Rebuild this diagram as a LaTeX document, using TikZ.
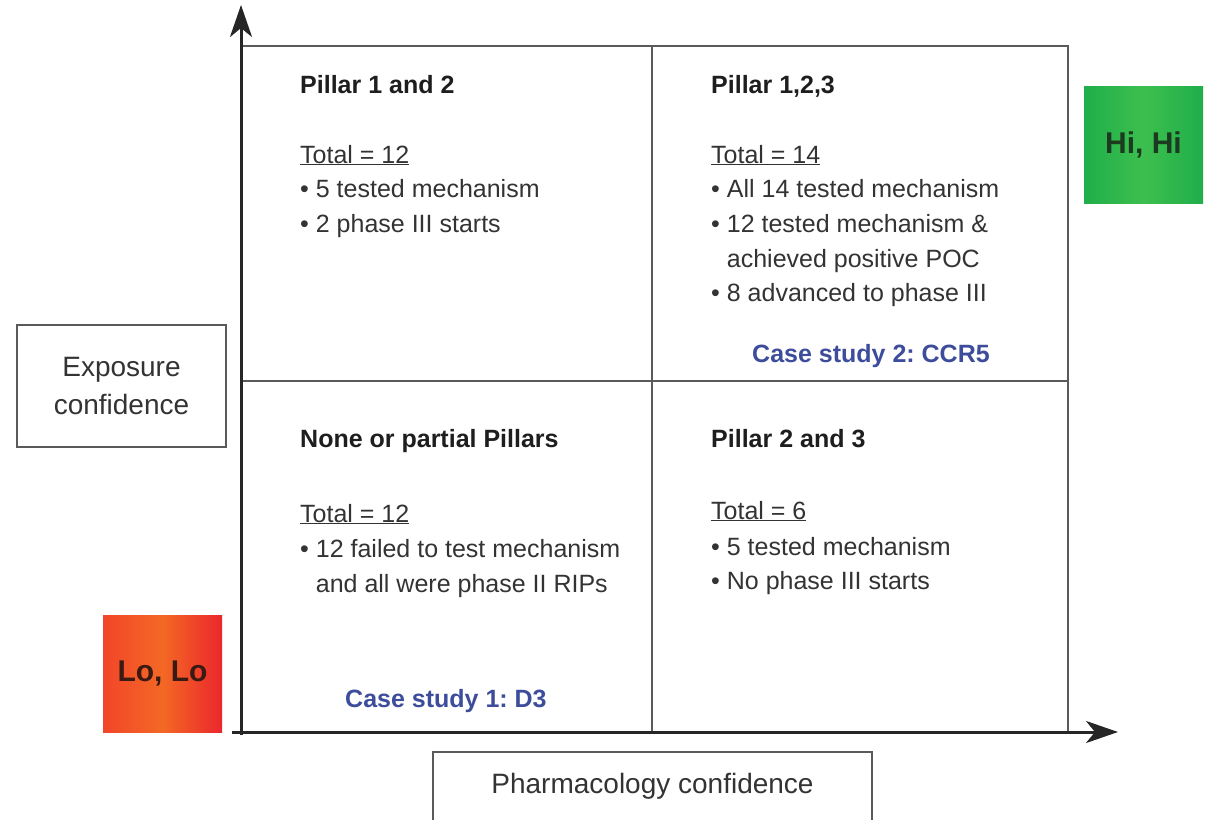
\documentclass[tikz,border=0pt]{standalone}
\usepackage{fontspec}
\setmainfont{Liberation Sans}
\usetikzlibrary{arrows.meta}
\frenchspacing
\definecolor{bodytxt}{HTML}{333333}
\definecolor{titletxt}{HTML}{1E1E1E}
\definecolor{casecol}{HTML}{3D4D9C}
\definecolor{gridcol}{HTML}{5A5A5A}
\definecolor{greenedge}{HTML}{1FAE4A}
\definecolor{greenmid}{HTML}{3DBF4E}
\definecolor{hitxt}{HTML}{1C3A1F}
\definecolor{redleft}{HTML}{F2462A}
\definecolor{redmid}{HTML}{F36824}
\definecolor{redright}{HTML}{EB272D}
\definecolor{lotxt}{HTML}{3A1A12}
\begin{document}
\begin{tikzpicture}[x=1pt,y=-1pt,
  titlelbl/.style={anchor=base west,inner sep=0,font=\fontsize{25}{30}\selectfont\bfseries\frenchspacing,text=titletxt},
  bodylbl/.style={anchor=base west,inner sep=0,font=\fontsize{25}{30}\selectfont\frenchspacing,text=bodytxt},
  caselbl/.style={anchor=base west,inner sep=0,font=\fontsize{25}{30}\selectfont\bfseries\frenchspacing,text=casecol},
  axislbl/.style={draw=gridcol,line width=1.5pt,inner sep=0,font=\fontsize{28}{38}\selectfont,text=bodytxt,align=center},
  levelbox/.style={minimum width=119pt,minimum height=117pt,inner sep=0,font=\fontsize{30}{36}\selectfont\bfseries\frenchspacing},
  gridline/.style={draw=gridcol,line width=1.3pt},
  axisline/.style={draw=black!85,line width=3pt,-{Stealth[length=32pt,width=22pt,inset=9pt]}}
]
\useasboundingbox (0,0) rectangle (1217,819);
\fill[white] (0,0) rectangle (1217,819);

% coordinates
\coordinate (orig) at (241,732);
\coordinate (ytip) at (241,5);
\coordinate (xstart) at (232,732);
\coordinate (ybot) at (241,735);
\coordinate (xtip) at (1118,732);
\coordinate (tl) at (241,46);
\coordinate (tr) at (1068,46);
\coordinate (br) at (1068,732);
\coordinate (mt) at (652,46);
\coordinate (mb) at (652,732);
\coordinate (ml) at (241,381);
\coordinate (mr) at (1068,381);

% grid
\draw[gridline] (tl) -- (tr) -- (br);
\draw[gridline] (mt) -- (mb);
\draw[gridline] (ml) -- (mr);

% axes
\draw[axisline] (ybot) -- (ytip);
\draw[axisline] (xstart) -- (xtip);

% Quadrant: top-left
\node[titlelbl] (q1t) at (300,93) {Pillar 1 and 2};
\node[bodylbl] (q1a) at (300,163) {\underline{Total = 12}};
\node[bodylbl] (q1b) at (300,197) {• 5 tested mechanism};
\node[bodylbl] (q1c) at (300,232) {• 2 phase III starts};

% Quadrant: top-right
\node[titlelbl] (q2t) at (711,93) {Pillar 1,2,3};
\node[bodylbl] (q2a) at (711,163) {\underline{Total = 14}};
\node[bodylbl] (q2b) at (711,197) {• All 14 tested mechanism};
\node[bodylbl] (q2c) at (711,232) {• 12 tested mechanism \&};
\node[bodylbl] (q2d) at (711,267) {\phantom{• }achieved positive POC};
\node[bodylbl] (q2e) at (711,301) {• 8 advanced to phase III};
\node[caselbl] (q2f) at (752,362) {Case study 2: CCR5};

% Quadrant: bottom-left
\node[titlelbl] (q3t) at (300,447) {None or partial Pillars};
\node[bodylbl] (q3a) at (300,522) {\underline{Total = 12}};
\node[bodylbl] (q3b) at (300,557) {• 12 failed to test mechanism};
\node[bodylbl] (q3c) at (300,592) {\phantom{• }and all were phase II RIPs};
\node[caselbl] (q3f) at (345,707) {Case study 1: D3};

% Quadrant: bottom-right
\node[titlelbl] (q4t) at (711,447) {Pillar 2 and 3};
\node[bodylbl] (q4a) at (711,519) {\underline{Total = 6}};
\node[bodylbl] (q4b) at (711,555) {• 5 tested mechanism};
\node[bodylbl] (q4c) at (711,589) {• No phase III starts};

% axis labels
\node[axislbl,minimum width=209pt,minimum height=122pt] (expo) at (121.5,386) {Exposure\\confidence};
\draw[draw=gridcol,line width=1.5pt] (433,830) -- (433,752) -- (872,752) -- (872,830);
\node[inner sep=0,font=\fontsize{28}{34}\selectfont,text=bodytxt] (pharm) at (652.5,786) {Pharmacology confidence};

% level boxes
\node[levelbox,left color=greenedge,right color=greenedge,middle color=greenmid,text=hitxt] (hihi) at (1143.5,144.5) {Hi, Hi};
\node[levelbox,left color=redleft,right color=redright,middle color=redmid,text=lotxt] (lolo) at (162.5,673.5) {Lo, Lo};
\end{tikzpicture}
\end{document}
